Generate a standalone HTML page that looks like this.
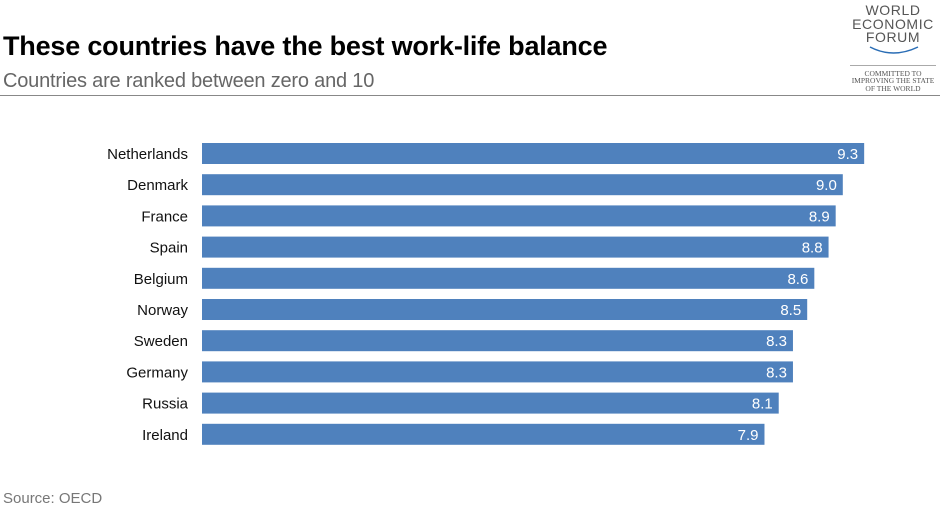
<!DOCTYPE html>
<html><head><meta charset="utf-8"><style>
body{margin:0;background:#fff;width:940px;height:512px;overflow:hidden;position:relative;font-family:"Liberation Sans",Arial,sans-serif}
.t{position:absolute;white-space:nowrap}
</style></head><body>
<div class="t" style="left:3px;top:31px;font-size:27px;font-weight:bold;color:#000;letter-spacing:-0.2px">These countries have the best work-life balance</div>
<div class="t" style="left:3px;top:70px;font-size:20px;color:#666;letter-spacing:-0.2px">Countries are ranked between zero and 10</div>
<div style="position:absolute;left:0;top:95px;width:940px;height:1px;background:#888"></div>
<div style="position:absolute;left:846px;top:4px;width:94px;text-align:center;color:#555">
<div style="font-size:14px;line-height:13.5px;letter-spacing:0.6px">WORLD<br>ECONOMIC<br>FORUM</div>
<svg width="94" height="14" style="display:block"><path d="M24 2 Q47 14 72 2" stroke="#2a6db5" stroke-width="1.5" fill="none"/></svg>
<div style="border-top:1px solid #aaa;margin:6px 4px 0;padding-top:4px;font-family:'Liberation Serif',serif;font-size:7.5px;line-height:7.5px">COMMITTED TO<br>IMPROVING THE STATE<br>OF THE WORLD</div>
</div>
<svg id="c" width="940" height="512" style="position:absolute;left:0;top:0"></svg>
<div class="t" style="left:3px;top:490px;font-size:15px;color:#777">Source: OECD</div>
<script>
const categories=["Netherlands","Denmark","France","Spain","Belgium","Norway","Sweden","Germany","Russia","Ireland"];
const values=[9.3,9.0,8.9,8.8,8.6,8.5,8.3,8.3,8.1,7.9];
const labels=["9.3","9.0","8.9","8.8","8.6","8.5","8.3","8.3","8.1","7.9"];
const svg=document.getElementById('c');const NS='http://www.w3.org/2000/svg';
const x=v=>202+v*71.2;const y=i=>143+i*31.2;
categories.forEach((c,i)=>{
 const r=document.createElementNS(NS,'rect');
 
 
 r.setAttribute('x',202);r.setAttribute('y',y(i));r.setAttribute('width',x(values[i])-202);r.setAttribute('height',21);r.setAttribute('fill','#4f81bd');svg.appendChild(r);
 const t=document.createElementNS(NS,'text');
 
 
 t.setAttribute('x',188);t.setAttribute('y',y(i)+16);t.setAttribute('text-anchor','end');t.setAttribute('font-size','15');t.setAttribute('fill','#111');t.textContent=c;svg.appendChild(t);
 const v=document.createElementNS(NS,'text');
 
 
 v.setAttribute('x',x(values[i])-6);v.setAttribute('y',y(i)+16);v.setAttribute('text-anchor','end');v.setAttribute('font-size','15');v.setAttribute('fill','#fff');v.textContent=labels[i];svg.appendChild(v);
});
</script>
</body></html>
